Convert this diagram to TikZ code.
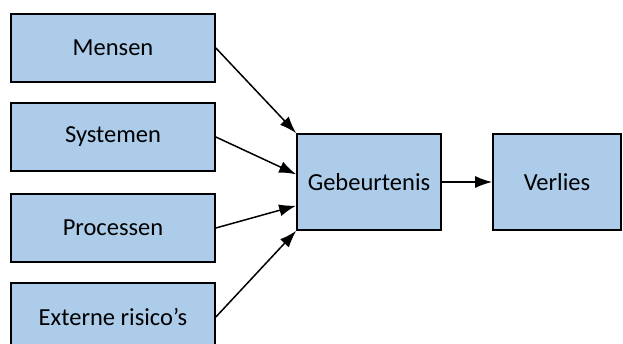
\documentclass[tikz,border=0pt]{standalone}
\usepackage{fontspec}
\setmainfont{Carlito}
\usetikzlibrary{arrows.meta}
\definecolor{boxblue}{RGB}{172,204,234}
\begin{document}
\begin{tikzpicture}[x=1pt,y=-1pt,
  box/.style={draw=black,line width=1.7pt,fill=boxblue,inner sep=0pt,
    font=\fontsize{24.5}{27}\selectfont},
  conn/.style={line width=1.5pt,-{Latex[length=17pt,width=12pt]}}]
\useasboundingbox (0,0) rectangle (623,344);
\clip (0,0) rectangle (623,344);
\node[box,minimum width=204pt,minimum height=68pt] (mensen) at (113,48) {Mensen};
\node[box,minimum width=204pt,minimum height=68pt] (systemen) at (113,137) {Systemen};
\node[box,minimum width=204pt,minimum height=68pt] (processen) at (113,228) {Processen};
\node[box,minimum width=204pt,minimum height=68pt] (extern) at (113,317) {Externe risico’s};
\node[box,minimum width=144pt,minimum height=96pt] (geb) at (369,182) {Gebeurtenis};
\node[box,minimum width=128pt,minimum height=96pt] (verlies) at (557,182) {Verlies};
\draw[conn] (mensen.east) -- (geb.north west);
\draw[conn] (systemen.east) -- (geb.174);
\draw[conn] (processen.east) -- (geb.198);
\draw[conn] (extern.east) -- (geb.south west);
\draw[conn] (geb.east) -- (verlies.west);
\end{tikzpicture}
\end{document}
